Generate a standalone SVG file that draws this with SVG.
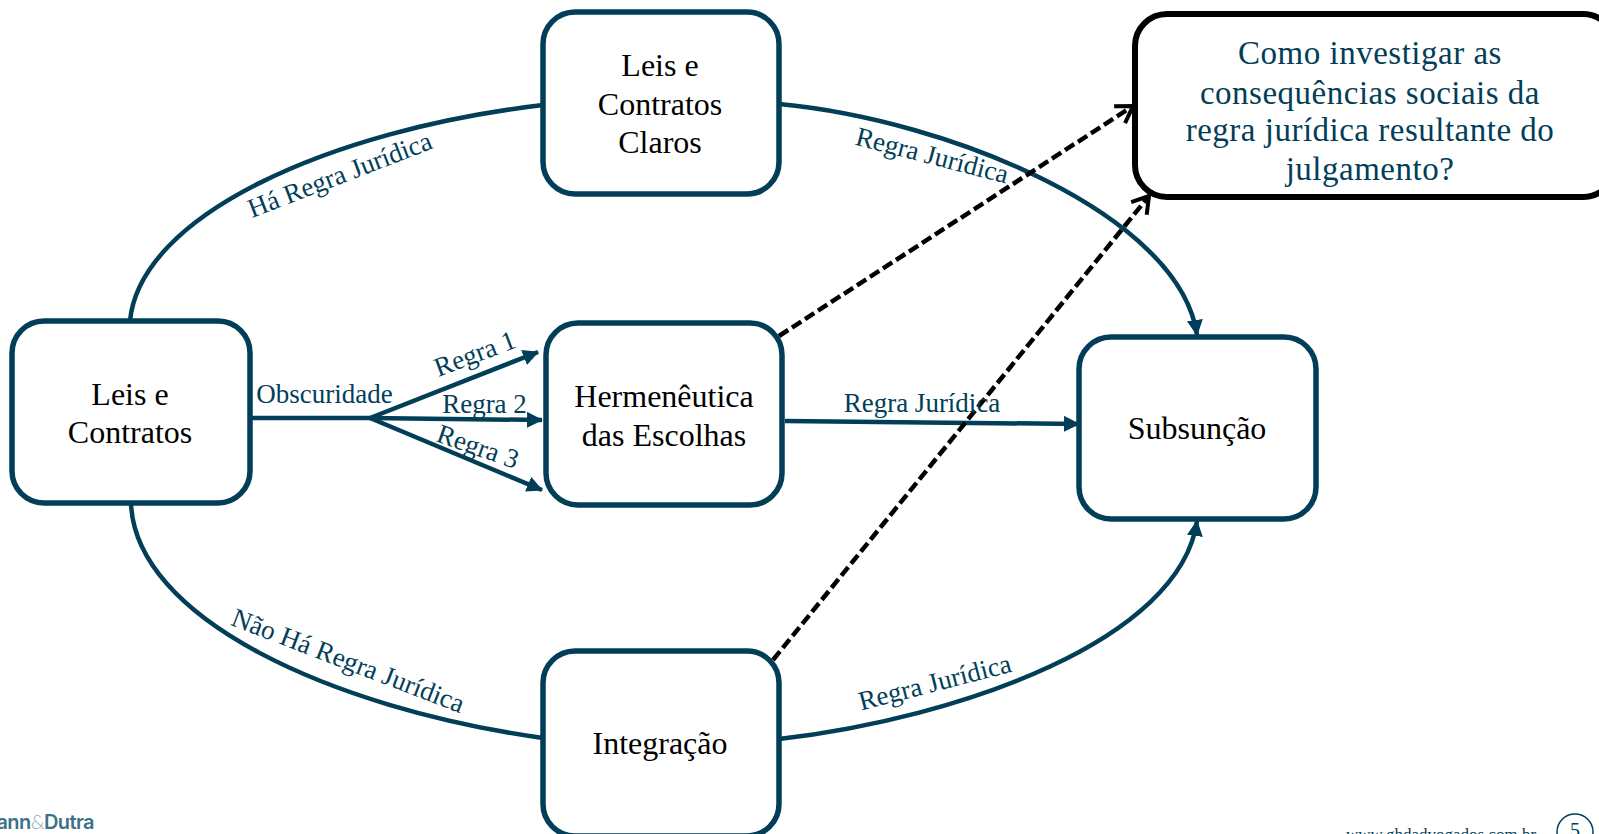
<svg xmlns="http://www.w3.org/2000/svg" width="1599" height="834" viewBox="0 0 1599 834">
<style>
.n{fill:#fff;stroke:#023e58;stroke-width:5.5}
.t{font-family:"Liberation Serif",serif;font-size:32px;fill:#000;text-anchor:middle}
.l{font-family:"Liberation Serif",serif;font-size:27px;fill:#023e58;text-anchor:middle}
.c{fill:none;stroke:#023e58;stroke-width:4.5}
.d{fill:none;stroke:#000;stroke-width:4.5;stroke-dasharray:11 4.5}
.q{font-family:"Liberation Serif",serif;font-size:33px;fill:#023e58;text-anchor:middle;letter-spacing:.5px}
</style>
<defs>
<marker id="a" markerUnits="userSpaceOnUse" markerWidth="18" markerHeight="16" refX="15" refY="8" orient="auto"><path d="M0 0L16 8L0 16Z" fill="#023e58"/></marker>
<marker id="o" markerUnits="userSpaceOnUse" markerWidth="26" markerHeight="26" refX="20" refY="13" orient="auto"><path d="M4 3L20 13L4 23" fill="none" stroke="#000" stroke-width="4"/></marker>
</defs>
<g id="connectors">
<path class="c" d="M130 321C140 215 330 130 543 105"/>
<path class="c" marker-end="url(#a)" d="M779 104C950 120 1180 215 1197 335"/>
<path class="c" d="M131 503C135 618 330 708 543 738"/>
<path class="c" marker-end="url(#a)" d="M779 739C960 718 1180 640 1197 521"/>
<path class="c" d="M250 418H370"/>
<path class="c" marker-end="url(#a)" d="M370 418L538 352"/>
<path class="c" marker-end="url(#a)" d="M370 418L542 420"/>
<path class="c" marker-end="url(#a)" d="M370 418L542 490"/>
<path class="c" marker-end="url(#a)" d="M785 421L1079 424"/>
<path class="d" marker-end="url(#o)" d="M779 336L1133 106"/>
<path class="d" marker-end="url(#o)" d="M773 660L1149 196"/>
</g>
<g id="n-top"><rect class="n" x="543" y="12" width="236" height="182" rx="32"/><text class="t" x="660" y="76">Leis e</text><text class="t" x="660" y="115">Contratos</text><text class="t" x="660" y="153">Claros</text></g>
<g id="n-left"><rect class="n" x="12" y="321" width="238" height="182" rx="32"/><text class="t" x="130" y="405">Leis e</text><text class="t" x="130" y="443">Contratos</text></g>
<g id="n-mid"><rect class="n" x="546" y="323" width="236" height="182" rx="32"/><text class="t" x="664" y="407">Hermenêutica</text><text class="t" x="664" y="446">das Escolhas</text></g>
<g id="n-bot"><rect class="n" x="543" y="651" width="236" height="185" rx="32"/><text class="t" x="660" y="754">Integração</text></g>
<g id="n-sub"><rect class="n" x="1079" y="337" width="237" height="182" rx="32"/><text class="t" x="1197" y="439">Subsunção</text></g>
<g id="n-q"><rect x="1135" y="14" width="480" height="183" rx="32" fill="#fff" stroke="#000" stroke-width="6"/>
<text class="q" x="1370" y="64">Como investigar as</text><text class="q" x="1370" y="104">consequências sociais da</text><text class="q" x="1370" y="141">regra jurídica resultante do</text><text class="q" x="1370" y="180">julgamento?</text></g>
<g id="labels">
<text class="l" x="324.5" y="403">Obscuridade</text>
<text class="l" transform="translate(478 362) rotate(-20.6)">Regra 1</text>
<text class="l" x="484.5" y="413">Regra 2</text>
<text class="l" transform="translate(475 455) rotate(19.4)">Regra 3</text>
<text class="l" x="922" y="412">Regra Jurídica</text>
<text class="l" transform="translate(343 183) rotate(-21)">Há Regra Jurídica</text>
<text class="l" transform="translate(930 164) rotate(14.5)">Regra Jurídica</text>
<text class="l" transform="translate(345 669) rotate(21)">Não Há Regra Jurídica</text>
<text class="l" transform="translate(937 691) rotate(-14.5)">Regra Jurídica</text>
</g>
<g id="footer">
<text x="94" y="829" font-family="Inter,sans-serif" font-size="20" font-weight="600" fill="#3b7287" text-anchor="end" letter-spacing="-.6">ann<tspan font-family="Lato,sans-serif" font-size="20" font-weight="300" fill="#8fb0bd">&amp;</tspan>Dutra</text>
<text x="1441" y="840" font-family="Liberation Serif,serif" font-size="17" fill="#023e58" text-anchor="middle">www.ghdadvogados.com.br</text>
<circle cx="1575" cy="832" r="18" fill="none" stroke="#023e58" stroke-width="1.5"/>
<text x="1575" y="837" font-family="Liberation Serif,serif" font-size="20" fill="#023e58" text-anchor="middle">5</text>
</g>
</svg>
